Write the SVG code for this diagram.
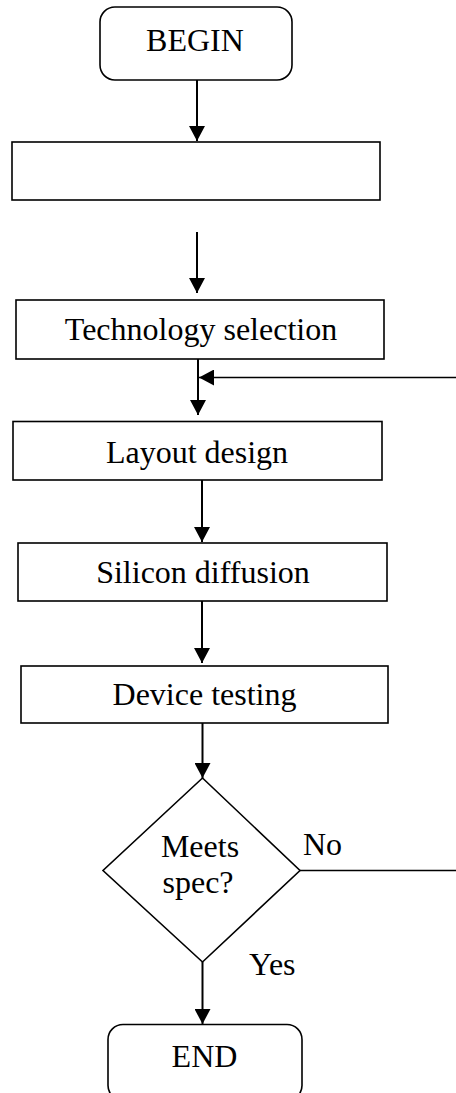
<svg xmlns="http://www.w3.org/2000/svg" width="456" height="1093" viewBox="0 0 456 1093">
  <style>
    .box { fill: #fff; stroke: #000; stroke-width: 1.6; }
    .lbl { font-family: "Liberation Serif", "Times New Roman", serif; font-size: 32px; fill: #000; text-anchor: middle; }
    .tag { font-family: "Liberation Serif", "Times New Roman", serif; font-size: 32px; fill: #000; }
    .flow { stroke: #000; stroke-width: 2; fill: none; }
    .thin { stroke: #000; stroke-width: 1.4; fill: none; }
  </style>
  <defs>
    <marker id="head" markerUnits="userSpaceOnUse" markerWidth="16" markerHeight="16" viewBox="0 0 16 16" refX="15" refY="8" orient="auto">
      <path d="M0,0 L15,8 L0,16 Z" fill="#000"/>
    </marker>
  </defs>

  <rect width="456" height="1093" fill="#fff"/>

  <g id="connectors">
    <line class="flow" x1="197" y1="80" x2="197" y2="141" marker-end="url(#head)"/>
    <line class="flow" x1="197" y1="232" x2="197" y2="293" marker-end="url(#head)"/>
    <line class="flow" x1="198" y1="359" x2="198" y2="415" marker-end="url(#head)"/>
    <line class="thin" x1="458" y1="377.5" x2="199" y2="377.5" marker-end="url(#head)"/>
    <line class="flow" x1="202" y1="480" x2="202" y2="542" marker-end="url(#head)"/>
    <line class="flow" x1="202" y1="601" x2="202" y2="663" marker-end="url(#head)"/>
    <line class="flow" x1="202.5" y1="723" x2="202.5" y2="778" marker-end="url(#head)"/>
    <line class="thin" x1="300" y1="870.5" x2="458" y2="870.5"/>
    <line class="flow" x1="202.5" y1="962" x2="202.5" y2="1024" marker-end="url(#head)"/>
  </g>

  <g id="begin">
    <rect class="box" x="100" y="7" width="192" height="73" rx="15"/>
    <text class="lbl" x="195" y="51">BEGIN</text>
  </g>

  <g id="blank-step">
    <rect class="box" x="12" y="142" width="368" height="58"/>
  </g>

  <g id="technology-selection">
    <rect class="box" x="16" y="300" width="368" height="59"/>
    <text class="lbl" x="201" y="340">Technology selection</text>
  </g>

  <g id="layout-design">
    <rect class="box" x="13" y="421.5" width="369" height="58.5"/>
    <text class="lbl" x="197" y="463">Layout design</text>
  </g>

  <g id="silicon-diffusion">
    <rect class="box" x="18" y="543" width="369" height="58"/>
    <text class="lbl" x="203" y="583">Silicon diffusion</text>
  </g>

  <g id="device-testing">
    <rect class="box" x="21" y="666" width="367" height="57"/>
    <text class="lbl" x="204.5" y="705">Device testing</text>
  </g>

  <g id="meets-spec">
    <polygon class="box" points="202.5,778 300,870.5 202.5,962 103,870.5"/>
    <text class="lbl" x="200" y="857">Meets</text>
    <text class="lbl" x="198" y="893">spec?</text>
  </g>

  <g id="branch-labels">
    <text class="tag" x="303" y="855">No</text>
    <text class="tag" x="249" y="975">Yes</text>
  </g>

  <g id="end">
    <rect class="box" x="108" y="1024.5" width="194" height="76" rx="15"/>
    <text class="lbl" x="204.5" y="1067">END</text>
  </g>
</svg>
